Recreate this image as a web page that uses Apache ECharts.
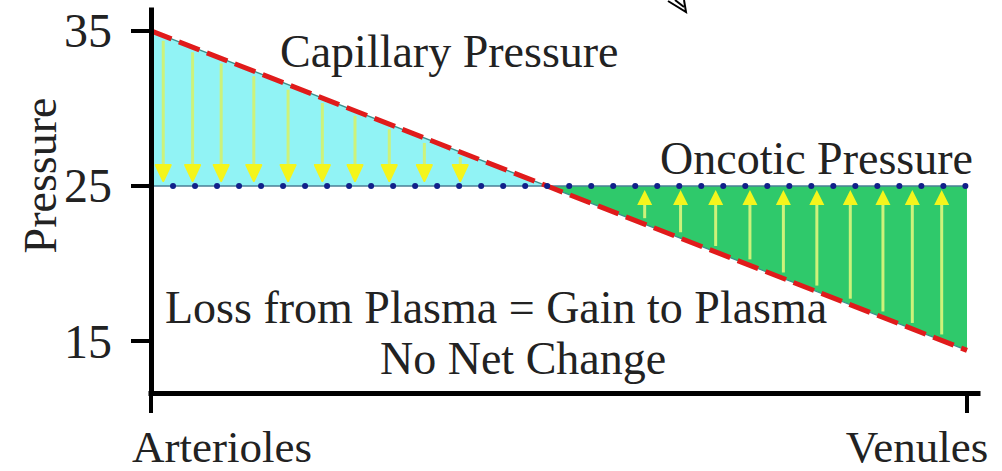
<!DOCTYPE html>
<html>
<head>
<meta charset="utf-8">
<script src="https://cdn.jsdelivr.net/npm/echarts@6/dist/echarts.min.js"></script>
<style>
html,body{margin:0;padding:0;background:#fff;}
#chart{width:1002px;height:471px;}
</style>
</head>
<body>
<div id="chart"></div>
<script>
// ---- data ----
const categories = ['Arterioles', 'Venules'];
const positions = [0, 100];
const capillaryPressure = [35, 14.4];
const oncoticPressure = [25, 25];
const yTickValues = [15, 25, 35];
const leftArrowX = [1.5, 5.1, 8.6, 12.6, 16.8, 21.0, 25.0, 29.2, 33.5, 37.9];
const rightArrowX = [60.5, 64.9, 69.2, 73.4, 77.5, 81.6, 85.7, 89.7, 93.3, 96.9];

const FONT = "'Liberation Serif','Times New Roman',serif";
const TXT = '#222';

function capAt(x) {
  const t = (x - positions[0]) / (positions[1] - positions[0]);
  return capillaryPressure[0] + t * (capillaryPressure[1] - capillaryPressure[0]);
}

const chart = echarts.init(document.getElementById('chart'), null, {renderer: 'svg'});

const option = {
  backgroundColor: '#fff',
  animation: false,
  grid: {left: 151, right: 24, top: 10, bottom: 78, containLabel: false},
  xAxis: {
    type: 'value', min: 0, max: 101.35, z: 10,
    axisLine: {show: true, lineStyle: {color: '#000', width: 5, cap: 'square'}},
    axisTick: {show: true, customValues: positions, length: 20, lineStyle: {color: '#000', width: 4}},
    axisLabel: {
      customValues: positions, margin: 31,
      formatter: v => (v === positions[0] ? '{a|' + categories[0] + '}' : '{b|' + categories[1] + '}'),
      rich: {
        a: {fontSize: 45, fontFamily: FONT, color: TXT, padding: [0, 0, 0, 142]},
        b: {fontSize: 45, fontFamily: FONT, color: TXT, padding: [0, 100, 0, 0]}
      }
    },
    splitLine: {show: false}
  },
  yAxis: {
    type: 'value', min: 11.65, max: 36.35, z: 10,
    name: 'Pressure', nameLocation: 'middle', nameRotate: 90, nameGap: 88, nameMoveOverlap: false,
    nameTextStyle: {fontSize: 46, fontFamily: FONT, color: TXT, padding: [0, 0, 0, 52]},
    axisLine: {show: true, lineStyle: {color: '#000', width: 5, cap: 'square'}},
    axisTick: {show: true, customValues: yTickValues, length: 20, lineStyle: {color: '#000', width: 4}},
    axisLabel: {customValues: yTickValues, margin: 39, fontSize: 48, fontFamily: FONT, color: TXT},
    splitLine: {show: false}
  },
  series: [
    {
      type: 'custom', z: 1, clip: false, silent: true,
      data: [[0]],
      renderItem: function (params, api) {
        const x0 = positions[0], x1 = positions[1];
        const o = oncoticPressure[0];
        const xc = x0 + (capillaryPressure[0] - o) / (capillaryPressure[0] - capillaryPressure[1]) * (x1 - x0);
        const pA = api.coord([x0, capillaryPressure[0]]);
        const pB = api.coord([x0, o]);
        const pC = api.coord([xc, o]);
        const pD = api.coord([x1, oncoticPressure[1]]);
        const pE = api.coord([x1, capillaryPressure[1]]);
        const children = [
          {type: 'polygon', shape: {points: [pA, pC, pB]}, style: {fill: '#91f3f5'}},
          {type: 'polygon', shape: {points: [pC, pD, pE]}, style: {fill: '#2fc96b'}},
          {type: 'line', shape: {x1: pA[0], y1: pA[1], x2: pE[0], y2: pE[1]}, style: {stroke: '#3c8f8c', lineWidth: 1.3}},
          {type: 'line', shape: {x1: pB[0], y1: pB[1], x2: pD[0], y2: pD[1]}, style: {stroke: '#4a7f96', lineWidth: 1.3}}
        ];
        leftArrowX.forEach(function (x) {
          const top = api.coord([x, capAt(x)]);
          const base = api.coord([x, o]);
          children.push({type: 'line', shape: {x1: top[0], y1: top[1] + 5, x2: base[0], y2: base[1] - 16},
            style: {stroke: '#cdf27a', lineWidth: 3}});
          children.push({type: 'polygon', shape: {points: [[base[0] - 7.5, base[1] - 21], [base[0] + 7.5, base[1] - 21], [base[0], base[1] - 5]]},
            style: {fill: '#f4f51c', stroke: '#f4f51c', lineWidth: 2, lineJoin: 'round'}});
        });
        rightArrowX.forEach(function (x) {
          const bot = api.coord([x, capAt(x)]);
          const base = api.coord([x, o]);
          children.push({type: 'line', shape: {x1: bot[0], y1: bot[1] - 6, x2: base[0], y2: base[1] + 16},
            style: {stroke: '#cdf27a', lineWidth: 3}});
          children.push({type: 'polygon', shape: {points: [[base[0] - 7.5, base[1] + 19], [base[0] + 7.5, base[1] + 19], [base[0], base[1] + 4]]},
            style: {fill: '#f4f51c'}});
        });
        return {type: 'group', children: children};
      }
    },
    {
      name: 'Capillary Pressure', type: 'line', z: 5, symbol: 'none', silent: true,
      data: positions.map((x, i) => [x, capillaryPressure[i]]),
      lineStyle: {color: '#e01b1b', width: 5, type: [22, 8]}
    },
    {
      name: 'Oncotic Pressure', type: 'line', z: 6, symbol: 'none', silent: true,
      data: positions.map((x, i) => [x, oncoticPressure[i]]),
      lineStyle: {color: '#11208a', width: 6, type: [0.01, 22], cap: 'round'}
    }
  ],
  graphic: [
    {type: 'text', x: 280, y: 51, z: 20, style: {text: 'Capillary Pressure', fontSize: 46, fontFamily: FONT, fill: TXT, align: 'left', verticalAlign: 'middle'}},
    {type: 'text', x: 660, y: 158, z: 20, style: {text: 'Oncotic Pressure', fontSize: 46, fontFamily: FONT, fill: TXT, align: 'left', verticalAlign: 'middle'}},
    {type: 'text', x: 165, y: 307, z: 20, style: {text: 'Loss from Plasma = Gain to Plasma', fontSize: 46, fontFamily: FONT, fill: TXT, align: 'left', verticalAlign: 'middle'}},
    {type: 'text', x: 380, y: 358, z: 20, style: {text: 'No Net Change', fontSize: 46, fontFamily: FONT, fill: TXT, align: 'left', verticalAlign: 'middle'}},
    {type: 'polyline', z: 20, shape: {points: [[668, 1], [686, 12], [684, 0]]}, style: {stroke: '#000', lineWidth: 2, fill: null}},
    {type: 'line', z: 20, shape: {x1: 675, y1: 0, x2: 684, y2: 7}, style: {stroke: '#000', lineWidth: 2}}
  ]
};
chart.setOption(option);
</script>
</body>
</html>
